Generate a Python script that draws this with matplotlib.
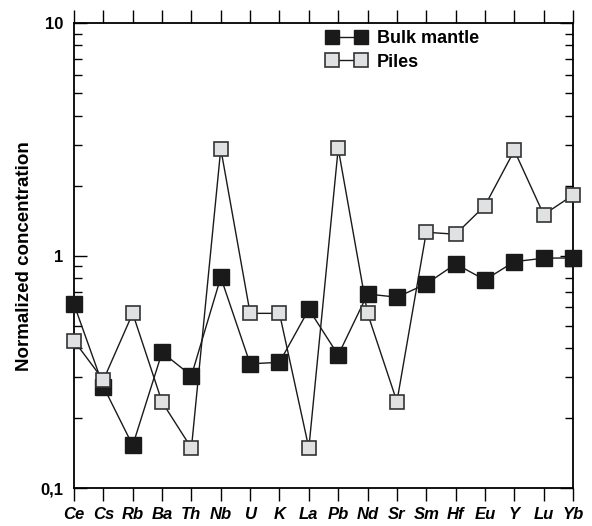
import matplotlib
matplotlib.use("Agg")
import matplotlib.pyplot as plt
from matplotlib.ticker import LogLocator, FixedLocator, FixedFormatter, NullFormatter

plt.rcParams['font.family'] = ['Liberation Sans', 'DejaVu Sans']

elements = ['Ce', 'Cs', 'Rb', 'Ba', 'Th', 'Nb', 'U', 'K', 'La', 'Pb', 'Nd', 'Sr',
            'Sm', 'Hf', 'Eu', 'Y', 'Lu', 'Yb']

bulk_mantle = [0.618, 0.274, 0.153, 0.384, 0.305, 0.807, 0.343, 0.348, 0.588, 0.374,
               0.684, 0.663, 0.756, 0.921, 0.787, 0.942, 0.975, 0.978]
piles = [0.431, 0.292, 0.565, 0.235, 0.149, 2.88, 0.565, 0.565, 0.149, 2.89,
         0.565, 0.236, 1.26, 1.236, 1.64, 2.83, 1.50, 1.82]

y_ticks = [0.1, 1, 10]
y_labels = ['0,1', '1', '10']

fig = plt.figure(figsize=(5.92, 5.26), dpi=100)
ax = fig.add_axes([0.125, 0.0715, 0.843, 0.885])

x = list(range(len(elements)))
ax.plot(x, bulk_mantle, color='#1a1a1a', lw=1.0, marker='s', markersize=11.5,
        markerfacecolor='#1a1a1a', markeredgecolor='#1a1a1a', clip_on=False,
        zorder=3, label='Bulk mantle')
ax.plot(x, piles, color='#1a1a1a', lw=1.0, marker='s', markersize=10.5,
        markerfacecolor='#e0e1e3', markeredgecolor='#333333', markeredgewidth=1.2,
        clip_on=False, zorder=4, label='Piles')

ax.set_yscale('log')
ax.set_ylim(0.1, 10)
ax.set_xlim(0, len(elements) - 1)

ax.yaxis.set_major_locator(FixedLocator(y_ticks))
ax.yaxis.set_major_formatter(FixedFormatter(y_labels))
ax.yaxis.set_minor_locator(LogLocator(base=10, subs=range(2, 10)))
ax.yaxis.set_minor_formatter(NullFormatter())

ax.set_xticks(x)
ax.set_xticklabels(elements, fontsize=12, fontweight='bold', fontstyle='italic')
for lab in ax.get_yticklabels():
    lab.set_fontweight('bold')
    lab.set_fontsize(12)

ax.tick_params(axis='x', which='both', direction='out', top=True, length=9.5,
               width=1.0, pad=4)
ax.tick_params(axis='y', which='major', direction='in', right=True, length=9.5,
               width=1.0, pad=8)
ax.tick_params(axis='y', which='minor', direction='in', right=True, length=5.5,
               width=1.0)

for s in ax.spines.values():
    s.set_linewidth(1.3)

ax.set_ylabel('Normalized concentration', fontsize=13.5, fontweight='bold', labelpad=5)

leg = ax.legend(loc='upper left', bbox_to_anchor=(0.507, 0.985), frameon=False,
                prop={'weight': 'bold', 'size': 13}, numpoints=2,
                handlelength=2.2, handletextpad=0.55, labelspacing=0.38,
                borderpad=0, borderaxespad=0)
for h in leg.legend_handles:
    h.set_markersize(10)

fig.savefig('out.png', dpi=100)
